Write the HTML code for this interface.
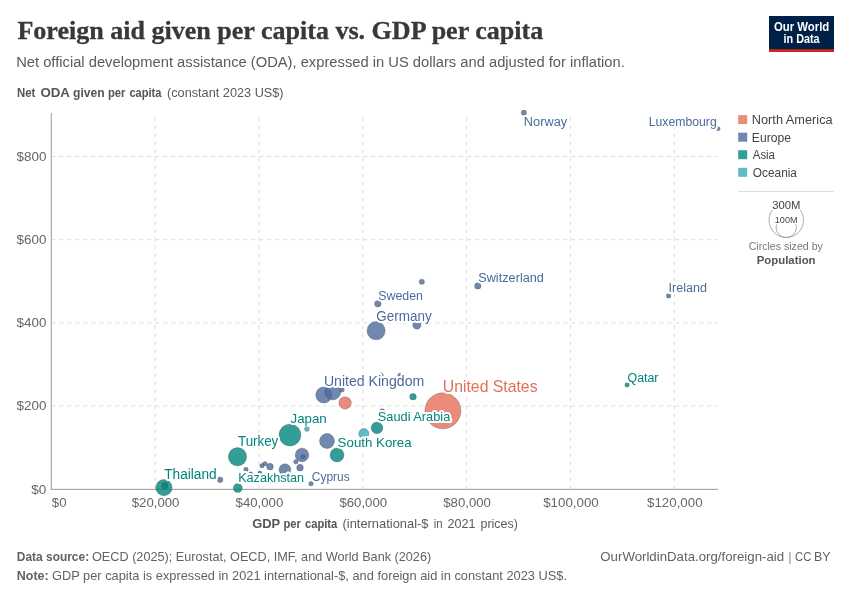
<!DOCTYPE html>
<html lang="en"><head><meta charset="utf-8"><title>Foreign aid given per capita vs. GDP per capita</title>
<style>
html,body{margin:0;padding:0;background:#fff;}
svg{display:block;font-family:'Liberation Sans', Arial, sans-serif;}
</style></head>
<body>
<svg width="850" height="600" viewBox="0 0 850 600">
<rect width="850" height="600" fill="#fff"/>
<text y="38.9" font-size="25" fill="#383838" font-weight="bold" font-family="'Liberation Serif', 'Times New Roman', serif" stroke="#383838" stroke-width="0.3" x="17.40" textLength="525.88" lengthAdjust="spacingAndGlyphs">Foreign aid given per capita vs. GDP per capita</text>
<text y="66.5" font-size="15.5" fill="#5b5b5b" x="16.15" textLength="608.69" lengthAdjust="spacingAndGlyphs">Net official development assistance (ODA), expressed in US dollars and adjusted for inflation.</text>
<text y="96.8" font-size="12.6" fill="#555" font-weight="bold"><tspan x="17.00" textLength="18.27" lengthAdjust="spacingAndGlyphs">Net</tspan> <tspan x="40.40" textLength="29.10" lengthAdjust="spacingAndGlyphs">ODA</tspan> <tspan x="73.00" textLength="31.67" lengthAdjust="spacingAndGlyphs">given</tspan> <tspan x="108.00" textLength="17.51" lengthAdjust="spacingAndGlyphs">per</tspan> <tspan x="129.40" textLength="32.12" lengthAdjust="spacingAndGlyphs">capita</tspan></text>
<text y="96.8" font-size="12.6" fill="#5b5b5b" x="167.00" textLength="116.60" lengthAdjust="spacingAndGlyphs">(constant 2023 US$)</text>
<rect x="769" y="16" width="65" height="36" fill="#002147"/>
<rect x="769" y="49.2" width="65" height="2.8" fill="#ce261e"/>
<text y="30.8" font-size="11.9" fill="#fff" font-weight="bold" x="774.00" textLength="55.25" lengthAdjust="spacingAndGlyphs">Our World</text>
<text y="42.8" font-size="11.9" fill="#fff" font-weight="bold" x="783.50" textLength="36.15" lengthAdjust="spacingAndGlyphs">in Data</text>
<line x1="155.14" y1="489.15" x2="155.14" y2="113" stroke="#ddd" stroke-dasharray="4,4"/>
<line x1="258.98" y1="489.15" x2="258.98" y2="113" stroke="#ddd" stroke-dasharray="4,4"/>
<line x1="362.82" y1="489.15" x2="362.82" y2="113" stroke="#ddd" stroke-dasharray="4,4"/>
<line x1="466.66" y1="489.15" x2="466.66" y2="113" stroke="#ddd" stroke-dasharray="4,4"/>
<line x1="570.50" y1="489.15" x2="570.50" y2="113" stroke="#ddd" stroke-dasharray="4,4"/>
<line x1="674.34" y1="489.15" x2="674.34" y2="113" stroke="#ddd" stroke-dasharray="4,4"/>
<line x1="51.3" y1="405.98" x2="718" y2="405.98" stroke="#ddd" stroke-dasharray="4,4"/>
<line x1="51.3" y1="322.82" x2="718" y2="322.82" stroke="#ddd" stroke-dasharray="4,4"/>
<line x1="51.3" y1="239.65" x2="718" y2="239.65" stroke="#ddd" stroke-dasharray="4,4"/>
<line x1="51.3" y1="156.49" x2="718" y2="156.49" stroke="#ddd" stroke-dasharray="4,4"/>
<line x1="51.3" y1="113" x2="51.3" y2="489.85" stroke="#999" stroke-width="1"/>
<line x1="50.8" y1="489.35" x2="718" y2="489.35" stroke="#999" stroke-width="1"/>
<text y="493.5" font-size="13.5" fill="#666" x="31.30" textLength="15.11" lengthAdjust="spacingAndGlyphs">$0</text>
<text y="410.4" font-size="13.5" fill="#666" x="16.50" textLength="29.91" lengthAdjust="spacingAndGlyphs">$200</text>
<text y="327.2" font-size="13.5" fill="#666" x="16.50" textLength="29.91" lengthAdjust="spacingAndGlyphs">$400</text>
<text y="244.1" font-size="13.5" fill="#666" x="16.50" textLength="29.91" lengthAdjust="spacingAndGlyphs">$600</text>
<text y="160.9" font-size="13.5" fill="#666" x="16.50" textLength="29.91" lengthAdjust="spacingAndGlyphs">$800</text>
<text y="507.3" font-size="13.5" fill="#666" x="51.80" textLength="14.80" lengthAdjust="spacingAndGlyphs">$0</text>
<text y="507.3" font-size="13.5" fill="#666" x="131.74" textLength="47.70" lengthAdjust="spacingAndGlyphs">$20,000</text>
<text y="507.3" font-size="13.5" fill="#666" x="235.58" textLength="47.70" lengthAdjust="spacingAndGlyphs">$40,000</text>
<text y="507.3" font-size="13.5" fill="#666" x="339.42" textLength="47.70" lengthAdjust="spacingAndGlyphs">$60,000</text>
<text y="507.3" font-size="13.5" fill="#666" x="443.26" textLength="47.70" lengthAdjust="spacingAndGlyphs">$80,000</text>
<text y="507.3" font-size="13.5" fill="#666" x="543.20" textLength="55.50" lengthAdjust="spacingAndGlyphs">$100,000</text>
<text y="507.3" font-size="13.5" fill="#666" x="647.04" textLength="55.50" lengthAdjust="spacingAndGlyphs">$120,000</text>
<text y="527.5" font-size="12.6" fill="#555" font-weight="bold"><tspan x="252.20" textLength="27.81" lengthAdjust="spacingAndGlyphs">GDP</tspan> <tspan x="283.50" textLength="17.41" lengthAdjust="spacingAndGlyphs">per</tspan> <tspan x="305.00" textLength="32.32" lengthAdjust="spacingAndGlyphs">capita</tspan></text>
<text y="527.5" font-size="12.6" fill="#5b5b5b"><tspan x="342.50" textLength="86.00" lengthAdjust="spacingAndGlyphs">(international-$</tspan> <tspan x="433.70" textLength="8.90" lengthAdjust="spacingAndGlyphs">in</tspan> <tspan x="447.60" textLength="28.00" lengthAdjust="spacingAndGlyphs">2021</tspan> <tspan x="480.50" textLength="37.39" lengthAdjust="spacingAndGlyphs">prices)</tspan></text>
<g fill-opacity="0.8" stroke-width="0.5" stroke-opacity="0.6">
<circle cx="442.85" cy="410.8" r="18.0" fill="#E56E5A" stroke="#444"/>
<circle cx="289.95" cy="435.05" r="10.9" fill="#00847E" stroke="#444"/>
<circle cx="376.1" cy="330.7" r="9.1" fill="#4C6A9C" stroke="#444"/>
<circle cx="237.5" cy="456.8" r="9.2" fill="#00847E" stroke="#444"/>
<circle cx="163.95" cy="487.6" r="8.15" fill="#00847E" stroke="#444"/>
<circle cx="323.8" cy="395.0" r="8.05" fill="#4C6A9C" stroke="#444"/>
<circle cx="332.8" cy="392.0" r="7.95" fill="#4C6A9C" stroke="#444"/>
<circle cx="327.0" cy="441.0" r="7.5" fill="#4C6A9C" stroke="#444"/>
<circle cx="337.0" cy="455.0" r="7.0" fill="#00847E" stroke="#444"/>
<circle cx="302.0" cy="455.0" r="6.8" fill="#4C6A9C" stroke="#444"/>
<circle cx="345.1" cy="402.95" r="6.2" fill="#E56E5A" stroke="#444"/>
<circle cx="284.9" cy="469.7" r="5.9" fill="#4C6A9C" stroke="#444"/>
<circle cx="377.0" cy="427.9" r="5.9" fill="#00847E" stroke="#444"/>
<circle cx="363.8" cy="433.6" r="5.1" fill="#38AABA" stroke="#444"/>
<circle cx="237.8" cy="488.0" r="4.5" fill="#00847E" stroke="#444"/>
<circle cx="416.9" cy="325.0" r="4.15" fill="#4C6A9C" stroke="#444"/>
<circle cx="270.0" cy="466.65" r="3.35" fill="#4C6A9C" stroke="#444"/>
<circle cx="300.0" cy="467.7" r="3.35" fill="#4C6A9C" stroke="#444"/>
<circle cx="413.0" cy="396.7" r="3.3" fill="#00847E" stroke="#444"/>
<circle cx="377.85" cy="303.8" r="3.25" fill="#4C6A9C" stroke="#444"/>
<circle cx="477.8" cy="285.9" r="3.2" fill="#4C6A9C" stroke="#444"/>
<circle cx="164.9" cy="485.7" r="3.1" fill="#00847E" stroke="#444"/>
<circle cx="220.1" cy="479.8" r="2.8" fill="#4C6A9C" stroke="#444"/>
<circle cx="421.8" cy="281.8" r="2.65" fill="#4C6A9C" stroke="#444"/>
<circle cx="382.2" cy="411.3" r="2.5" fill="#4C6A9C" stroke="#444"/>
<circle cx="523.9" cy="112.7" r="2.6" fill="#4C6A9C" stroke="#444"/>
<circle cx="246.0" cy="469.65" r="2.3" fill="#4C6A9C" stroke="#444"/>
<circle cx="259.9" cy="473.4" r="2.3" fill="#4C6A9C" stroke="#444"/>
<circle cx="262.0" cy="465.7" r="2.25" fill="#4C6A9C" stroke="#444"/>
<circle cx="264.95" cy="463.7" r="2.25" fill="#4C6A9C" stroke="#444"/>
<circle cx="295.9" cy="461.8" r="2.25" fill="#4C6A9C" stroke="#444"/>
<circle cx="303.0" cy="456.8" r="2.2" fill="#4C6A9C" stroke="#444"/>
<circle cx="311.0" cy="483.7" r="2.3" fill="#4C6A9C" stroke="#444"/>
<circle cx="341.95" cy="389.85" r="2.4" fill="#4C6A9C" stroke="#444"/>
<circle cx="380.8" cy="375.3" r="2.4" fill="#4C6A9C" stroke="#444"/>
<circle cx="668.6" cy="295.9" r="2.3" fill="#4C6A9C" stroke="#444"/>
<circle cx="627.1" cy="384.9" r="2.2" fill="#00847E" stroke="#444"/>
<circle cx="250.7" cy="473.8" r="2.0" fill="#4C6A9C" stroke="#444"/>
<circle cx="399.8" cy="375.2" r="2.0" fill="#4C6A9C" stroke="#444"/>
<circle cx="718.1" cy="128.8" r="2.0" fill="#4C6A9C" stroke="#444"/>
</g>
<text y="391.6" font-size="15.9" fill="#E56E5A" stroke="#fff" stroke-width="4" stroke-linejoin="round" paint-order="stroke fill" x="442.81" textLength="94.74" lengthAdjust="spacingAndGlyphs">United States</text>
<text y="385.7" font-size="14.1" fill="#4C6A9C" stroke="#fff" stroke-width="4" stroke-linejoin="round" paint-order="stroke fill" x="323.90" textLength="100.34" lengthAdjust="spacingAndGlyphs">United Kingdom</text>
<text y="320.7" font-size="14.3" fill="#4C6A9C" stroke="#fff" stroke-width="4" stroke-linejoin="round" paint-order="stroke fill" x="376.30" textLength="55.40" lengthAdjust="spacingAndGlyphs">Germany</text>
<text y="299.8" font-size="12.5" fill="#4C6A9C" stroke="#fff" stroke-width="4" stroke-linejoin="round" paint-order="stroke fill" x="378.20" textLength="44.75" lengthAdjust="spacingAndGlyphs">Sweden</text>
<text y="422.6" font-size="13.2" fill="#00847E" stroke="#fff" stroke-width="4" stroke-linejoin="round" paint-order="stroke fill" x="290.50" textLength="36.14" lengthAdjust="spacingAndGlyphs">Japan</text>
<text y="446.3" font-size="14.3" fill="#00847E" stroke="#fff" stroke-width="4" stroke-linejoin="round" paint-order="stroke fill" x="238.00" textLength="40.30" lengthAdjust="spacingAndGlyphs">Turkey</text>
<text y="446.5" font-size="13.2" fill="#00847E" stroke="#fff" stroke-width="4" stroke-linejoin="round" paint-order="stroke fill" x="337.60" textLength="74.03" lengthAdjust="spacingAndGlyphs">South Korea</text>
<text y="421.3" font-size="13.2" fill="#00847E" stroke="#fff" stroke-width="4" stroke-linejoin="round" paint-order="stroke fill" x="377.80" textLength="72.46" lengthAdjust="spacingAndGlyphs">Saudi Arabia</text>
<text y="478.8" font-size="13.8" fill="#00847E" stroke="#fff" stroke-width="4" stroke-linejoin="round" paint-order="stroke fill" x="164.20" textLength="52.47" lengthAdjust="spacingAndGlyphs">Thailand</text>
<text y="481.8" font-size="12.3" fill="#00847E" stroke="#fff" stroke-width="4" stroke-linejoin="round" paint-order="stroke fill" x="238.17" textLength="65.96" lengthAdjust="spacingAndGlyphs">Kazakhstan</text>
<text y="480.5" font-size="12.5" fill="#4C6A9C" stroke="#fff" stroke-width="4" stroke-linejoin="round" paint-order="stroke fill" x="311.80" textLength="37.84" lengthAdjust="spacingAndGlyphs">Cyprus</text>
<text y="125.7" font-size="12.5" fill="#4C6A9C" stroke="#fff" stroke-width="4" stroke-linejoin="round" paint-order="stroke fill" x="523.88" textLength="43.26" lengthAdjust="spacingAndGlyphs">Norway</text>
<text y="125.7" font-size="12.5" fill="#4C6A9C" stroke="#fff" stroke-width="4" stroke-linejoin="round" paint-order="stroke fill" x="648.72" textLength="68.03" lengthAdjust="spacingAndGlyphs">Luxembourg</text>
<text y="281.7" font-size="12.5" fill="#4C6A9C" stroke="#fff" stroke-width="4" stroke-linejoin="round" paint-order="stroke fill" x="478.20" textLength="65.75" lengthAdjust="spacingAndGlyphs">Switzerland</text>
<text y="292.4" font-size="12.5" fill="#4C6A9C" stroke="#fff" stroke-width="4" stroke-linejoin="round" paint-order="stroke fill" x="668.49" textLength="38.46" lengthAdjust="spacingAndGlyphs">Ireland</text>
<text y="381.8" font-size="12.5" fill="#00847E" stroke="#fff" stroke-width="4" stroke-linejoin="round" paint-order="stroke fill" x="627.50" textLength="30.96" lengthAdjust="spacingAndGlyphs">Qatar</text>
<circle cx="306.9" cy="429.1" r="2.4" fill="#38AABA" fill-opacity="0.8" stroke="#444" stroke-width="0.5" stroke-opacity="0.6"/>
<rect x="738.2" y="115.1" width="9" height="9" fill="#E56E5A" fill-opacity="0.8"/>
<text y="123.9" font-size="12.5" fill="#444" x="751.79" textLength="80.86" lengthAdjust="spacingAndGlyphs">North America</text>
<rect x="738.2" y="132.7" width="9" height="9" fill="#4C6A9C" fill-opacity="0.8"/>
<text y="141.5" font-size="12.5" fill="#444" x="751.83" textLength="39.12" lengthAdjust="spacingAndGlyphs">Europe</text>
<rect x="738.2" y="150.2" width="9" height="9" fill="#00847E" fill-opacity="0.8"/>
<text y="159.0" font-size="12.5" fill="#444" x="752.80" textLength="22.16" lengthAdjust="spacingAndGlyphs">Asia</text>
<rect x="738.2" y="167.8" width="9" height="9" fill="#38AABA" fill-opacity="0.8"/>
<text y="176.6" font-size="12.5" fill="#444" x="752.80" textLength="44.15" lengthAdjust="spacingAndGlyphs">Oceania</text>
<line x1="738.2" y1="191.5" x2="834" y2="191.5" stroke="#ddd"/>
<circle cx="786.25" cy="220.25" r="17.25" fill="none" stroke="#999" stroke-width="0.8"/>
<circle cx="786.25" cy="227.3" r="10.2" fill="none" stroke="#999" stroke-width="0.8"/>
<text y="209.2" font-size="10" fill="#444" stroke="#fff" stroke-width="2.5" stroke-linejoin="round" paint-order="stroke fill" x="772.20" textLength="28.17" lengthAdjust="spacingAndGlyphs">300M</text>
<text y="222.6" font-size="8.5" fill="#444" stroke="#fff" stroke-width="2.5" stroke-linejoin="round" paint-order="stroke fill" x="774.80" textLength="22.69" lengthAdjust="spacingAndGlyphs">100M</text>
<text y="250.1" font-size="10.5" fill="#777" x="748.70" textLength="74.14" lengthAdjust="spacingAndGlyphs">Circles sized by</text>
<text y="263.7" font-size="11.3" fill="#555" font-weight="bold" x="756.70" textLength="58.90" lengthAdjust="spacingAndGlyphs">Population</text>
<text y="560.5" font-size="12.6" fill="#626262" font-weight="bold" x="16.80" textLength="72.33" lengthAdjust="spacingAndGlyphs">Data source:</text>
<text y="560.5" font-size="12.6" fill="#626262" x="92.00" textLength="339.20" lengthAdjust="spacingAndGlyphs">OECD (2025); Eurostat, OECD, IMF, and World Bank (2026)</text>
<text y="560.5" font-size="12.6" fill="#626262"><tspan x="600.30" textLength="183.80" lengthAdjust="spacingAndGlyphs">OurWorldinData.org/foreign-aid</tspan> <tspan x="788.65" textLength="2.45" lengthAdjust="spacingAndGlyphs">|</tspan> <tspan x="795.00" textLength="16.28" lengthAdjust="spacingAndGlyphs">CC</tspan> <tspan x="814.01" textLength="16.60" lengthAdjust="spacingAndGlyphs">BY</tspan></text>
<text y="580.3" font-size="12.6" fill="#626262" font-weight="bold" x="16.80" textLength="31.88" lengthAdjust="spacingAndGlyphs">Note:</text>
<text y="580.3" font-size="12.6" fill="#626262" x="52.00" textLength="515.01" lengthAdjust="spacingAndGlyphs">GDP per capita is expressed in 2021 international-$, and foreign aid in constant 2023 US$.</text>
</svg>
</body></html>
